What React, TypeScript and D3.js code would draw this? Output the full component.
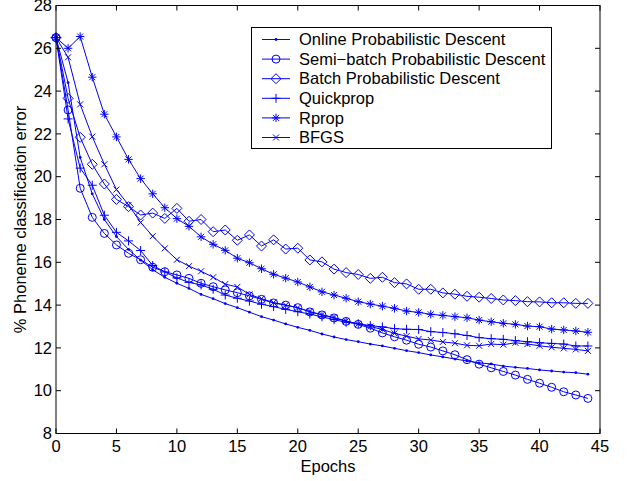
import React from 'react';
import * as d3 from 'd3';

// Epochs (x) and % phoneme classification error per method
const epochs = [0, 1, 2, 3, 4, 5, 6, 7, 8, 9, 10, 11, 12, 13, 14, 15, 16, 17, 18, 19, 20, 21, 22,
  23, 24, 25, 26, 27, 28, 29, 30, 31, 32, 33, 34, 35, 36, 37, 38, 39, 40, 41, 42, 43, 44];

const online = [26.5, 24.4, 20.9, 19.2, 18.0, 17.2, 16.6, 16.1, 15.65, 15.3, 15.02, 14.78, 14.5, 14.3,
  14.07, 13.88, 13.67, 13.46, 13.3, 13.12, 12.96, 12.82, 12.65, 12.51, 12.39, 12.29, 12.18, 12.09, 11.98,
  11.87, 11.78, 11.67, 11.58, 11.48, 11.39, 11.3, 11.25, 11.15, 11.09, 11.04, 10.97, 10.92, 10.87, 10.84, 10.77];

const semiBatch = [26.5, 23.12, 19.46, 18.1, 17.35, 16.81, 16.42, 16.12, 15.77, 15.56, 15.41, 15.25, 15.02,
  14.86, 14.71, 14.58, 14.43, 14.27, 14.1, 14.0, 13.88, 13.68, 13.54, 13.4, 13.24, 13.1, 12.92, 12.7, 12.52,
  12.36, 12.17, 12.04, 11.86, 11.68, 11.45, 11.24, 11.07, 10.9, 10.73, 10.53, 10.35, 10.16, 9.95, 9.8, 9.64];

const batch = [26.5, 23.66, 21.84, 20.58, 19.66, 18.94, 18.6, 18.21, 18.3, 18.05, 18.52, 17.92, 18.0, 17.43,
  17.51, 17.03, 17.28, 16.76, 17.05, 16.62, 16.66, 16.11, 16.02, 15.68, 15.52, 15.43, 15.25, 15.3, 15.05,
  14.99, 14.74, 14.74, 14.57, 14.51, 14.41, 14.37, 14.31, 14.24, 14.21, 14.16, 14.15, 14.11, 14.11, 14.08, 14.08];

const quickprop = [26.5, 22.7, 20.4, 19.6, 18.2, 17.4, 17.0, 16.55, 15.85, 15.55, 15.27, 15.06, 14.94, 14.74,
  14.47, 14.32, 14.19, 14.04, 13.93, 13.8, 13.69, 13.58, 13.45, 13.32, 13.2, 13.13, 13.04, 12.98, 12.9,
  12.87, 12.86, 12.76, 12.72, 12.66, 12.58, 12.48, 12.43, 12.4, 12.34, 12.29, 12.24, 12.21, 12.18, 12.09, 12.09];

const rprop = [26.5, 26.0, 26.55, 24.65, 22.92, 21.86, 20.81, 19.91, 19.2, 18.55, 18.04, 17.68, 17.19, 16.84,
  16.56, 16.19, 15.98, 15.7, 15.44, 15.26, 15.08, 14.85, 14.62, 14.47, 14.32, 14.16, 14.05, 13.95, 13.85,
  13.72, 13.66, 13.57, 13.52, 13.46, 13.41, 13.3, 13.22, 13.15, 13.1, 13.02, 12.99, 12.88, 12.84, 12.79, 12.73];

const bfgs = [26.5, 25.58, 23.38, 21.87, 20.58, 19.4, 18.68, 17.86, 17.22, 16.65, 16.12, 15.82, 15.58, 15.3,
  14.98, 14.85, 14.5, 14.3, 14.12, 14.0, 13.88, 13.7, 13.55, 13.42, 13.26, 13.12, 13.0, 12.86, 12.68,
  12.55, 12.42, 12.37, 12.28, 12.22, 12.12, 12.1, 12.18, 12.15, 12.24, 12.18, 12.1, 12.03, 11.98, 11.93, 11.86];

const seriesNames = ['Online Probabilistic Descent', 'Semi\u2212batch Probabilistic Descent',
  'Batch Probabilistic Descent', 'Quickprop', 'Rprop', 'BFGS'];
const seriesMarkers = ['point', 'circle', 'diamond', 'plus', 'star', 'x'];
const seriesValues = [online, semiBatch, batch, quickprop, rprop, bfgs];

const xTicks = [0, 5, 10, 15, 20, 25, 30, 35, 40, 45];
const yTicks = [8, 10, 12, 14, 16, 18, 20, 22, 24, 26, 28];

const W = 629;
const H = 481;
const margin = { left: 56, right: 29, top: 5.5, bottom: 47.5 };
const BLUE = '#0000ff';
const FONT = '"Liberation Sans", Arial, Helvetica, sans-serif';
const FS = 16.5;

const x = d3.scaleLinear().domain([0, 45]).range([margin.left, W - margin.right]);
const y = d3.scaleLinear().domain([8, 28]).range([H - margin.bottom, margin.top]);

// MATLAB-style marker shapes
const Marker = ({ type, cx, cy }: { type: string; cx: number; cy: number }) => {
  const s = { stroke: BLUE, strokeWidth: 1, fill: 'none' };
  if (type === 'point') return <circle cx={cx} cy={cy} r={1.4} fill={BLUE} />;
  if (type === 'circle') return <circle cx={cx} cy={cy} r={4} {...s} />;
  if (type === 'diamond') {
    const d = 5;
    return <path d={`M${cx},${cy - d}L${cx + d},${cy}L${cx},${cy + d}L${cx - d},${cy}Z`} {...s} />;
  }
  if (type === 'plus') {
    const d = 4.5;
    return <path d={`M${cx - d},${cy}H${cx + d}M${cx},${cy - d}V${cy + d}`} {...s} />;
  }
  if (type === 'x') {
    const d = 3;
    return <path d={`M${cx - d},${cy - d}L${cx + d},${cy + d}M${cx - d},${cy + d}L${cx + d},${cy - d}`} {...s} />;
  }
  // star: plus + cross
  const d = 4.2;
  const e = 3;
  return (
    <path
      d={`M${cx - d},${cy}H${cx + d}M${cx},${cy - d}V${cy + d}M${cx - e},${cy - e}L${cx + e},${cy + e}M${cx - e},${cy + e}L${cx + e},${cy - e}`}
      {...s}
    />
  );
};

const App = () => {
  const line = d3.line<number>().x((_, i) => x(epochs[i])).y((d) => y(d));
  const x0 = x(0), x1 = x(45), y0 = y(8), y1 = y(28);
  const tl = 5;

  // legend geometry
  const lgX = 251.5, lgY = 27.5, lgW = 300, lgRow = 19.6;
  const lgH = 121;

  return (
    <svg width={W} height={H} style={{ position: 'absolute', left: 0, top: 0, background: '#fff' }}
      fontFamily={FONT} fontSize={FS}>
      <rect x={0} y={0} width={W} height={H} fill="#fff" />

      {/* series */}
      {seriesValues.map((vals, si) => (
        <g key={si}>
          <path d={line(vals) || ''} fill="none" stroke={BLUE} strokeWidth={1} />
          {vals.map((v, i) => (
            <Marker key={i} type={seriesMarkers[si]} cx={x(epochs[i])} cy={y(v)} />
          ))}
        </g>
      ))}

      {/* axes box */}
      <rect x={x0} y={y1} width={x1 - x0} height={y0 - y1} fill="none" stroke="#000" strokeWidth={1} />
      {xTicks.map((t) => (
        <g key={'x' + t}>
          <line x1={x(t)} x2={x(t)} y1={y0} y2={y0 - tl} stroke="#000" />
          <line x1={x(t)} x2={x(t)} y1={y1} y2={y1 + tl} stroke="#000" />
          <text x={x(t)} y={y0 + 18} textAnchor="middle">{t}</text>
        </g>
      ))}
      {yTicks.map((t) => (
        <g key={'y' + t}>
          <line x1={x0} x2={x0 + tl} y1={y(t)} y2={y(t)} stroke="#000" />
          <line x1={x1} x2={x1 - tl} y1={y(t)} y2={y(t)} stroke="#000" />
          <text x={x0 - 4} y={y(t)} dy="0.35em" textAnchor="end">{t}</text>
        </g>
      ))}
      <text x={(x0 + x1) / 2} y={y0 + 38} textAnchor="middle">Epochs</text>
      <text transform={`translate(26,${(y0 + y1) / 2}) rotate(-90)`} textAnchor="middle">
        % Phoneme classification error
      </text>

      {/* legend */}
      <rect x={lgX} y={lgY} width={lgW} height={lgH} fill="#fff" stroke="#000" strokeWidth={1} />
      {seriesNames.map((name, i) => {
        const cy = lgY + 12 + i * lgRow;
        return (
          <g key={name}>
            <line x1={262} x2={290} y1={cy} y2={cy} stroke={BLUE} strokeWidth={1} />
            <Marker type={seriesMarkers[i]} cx={276} cy={cy} />
            <text x={299} y={cy} dy="0.35em">{name}</text>
          </g>
        );
      })}
    </svg>
  );
};

export default App;
